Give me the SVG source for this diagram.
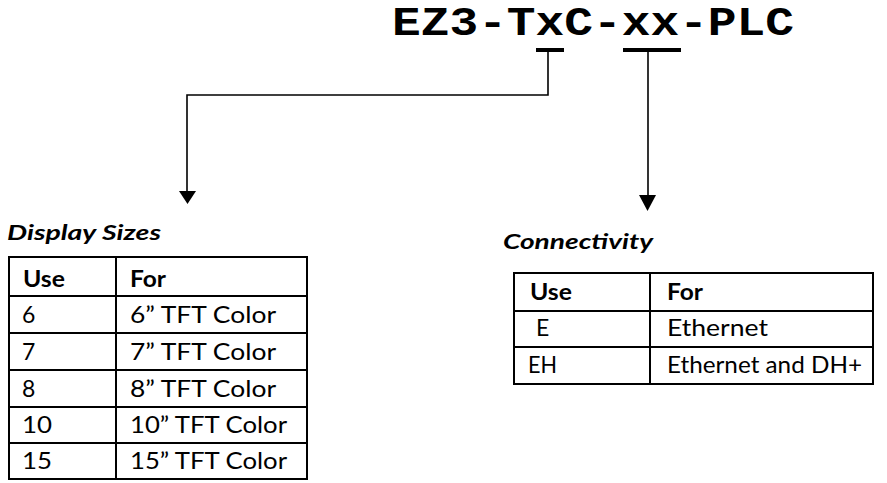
<svg xmlns="http://www.w3.org/2000/svg" width="887" height="483" viewBox="0 0 887 483">
<style>
.title{font-family:"Liberation Mono","DejaVu Sans Mono",monospace;font-weight:bold;font-size:40px;fill:#000}
.lbl{font-family:Lato,"Open Sans",sans-serif;font-weight:bold;font-style:italic;font-size:21px;fill:#000}
.th{font-family:Lato,"Open Sans",sans-serif;font-weight:bold;font-size:23px;fill:#000}
.td{font-family:Lato,"Open Sans",sans-serif;font-size:23px;fill:#000}
.grid{fill:none;stroke:#000;stroke-width:2}
.conn{fill:none;stroke:#000;stroke-width:1.6}
.head{fill:#000}
</style>
<rect width="887" height="483" fill="#fff"/>
<g id="title">
<text class="title" x="392" y="35" textLength="402" lengthAdjust="spacingAndGlyphs">EZ3-TxC-xx-PLC</text>
<rect x="536" y="48" width="28" height="4" fill="#000"/>
<rect x="623" y="48" width="58" height="4" fill="#000"/>
</g>
<g id="connectors">
<polyline class="conn" points="548,52 548,95 187,95 187,193"/>
<polygon class="head" points="179,191 196,191 187.5,204"/>
<line class="conn" x1="648" y1="52" x2="648" y2="197"/>
<polygon class="head" points="639,195 656,195 647.5,211"/>
</g>
<g id="display-sizes">
<text class="lbl" x="7" y="240" textLength="154" lengthAdjust="spacingAndGlyphs">Display Sizes</text>
<rect class="grid" x="9" y="257" width="298" height="222"/>
<line class="grid" x1="116" y1="257" x2="116" y2="479"/>
<line class="grid" x1="9" y1="296" x2="307" y2="296"/>
<line class="grid" x1="9" y1="333" x2="307" y2="333"/>
<line class="grid" x1="9" y1="370" x2="307" y2="370"/>
<line class="grid" x1="9" y1="407" x2="307" y2="407"/>
<line class="grid" x1="9" y1="443" x2="307" y2="443"/>
<text class="th" x="23" y="287" textLength="42" lengthAdjust="spacingAndGlyphs">Use</text>
<text class="th" x="130" y="287" textLength="36" lengthAdjust="spacingAndGlyphs">For</text>
<text class="td" x="22" y="323">6</text>
<text class="td" x="130" y="323" textLength="146" lengthAdjust="spacingAndGlyphs">6” TFT Color</text>
<text class="td" x="22" y="360">7</text>
<text class="td" x="130" y="360" textLength="146" lengthAdjust="spacingAndGlyphs">7” TFT Color</text>
<text class="td" x="22" y="397">8</text>
<text class="td" x="130" y="397" textLength="146" lengthAdjust="spacingAndGlyphs">8” TFT Color</text>
<text class="td" x="22" y="433" textLength="30" lengthAdjust="spacingAndGlyphs">10</text>
<text class="td" x="130" y="433" textLength="157" lengthAdjust="spacingAndGlyphs">10” TFT Color</text>
<text class="td" x="22" y="469" textLength="30" lengthAdjust="spacingAndGlyphs">15</text>
<text class="td" x="130" y="469" textLength="157" lengthAdjust="spacingAndGlyphs">15” TFT Color</text>
</g>
<g id="connectivity">
<text class="lbl" x="503" y="249" textLength="150" lengthAdjust="spacingAndGlyphs">Connectivity</text>
<rect class="grid" x="514" y="273" width="359" height="111"/>
<line class="grid" x1="650" y1="273" x2="650" y2="384"/>
<line class="grid" x1="514" y1="311" x2="873" y2="311"/>
<line class="grid" x1="514" y1="347" x2="873" y2="347"/>
<text class="th" x="530" y="300" textLength="42" lengthAdjust="spacingAndGlyphs">Use</text>
<text class="th" x="667" y="300" textLength="36" lengthAdjust="spacingAndGlyphs">For</text>
<text class="td" x="536" y="336">E</text>
<text class="td" x="667" y="336" textLength="101" lengthAdjust="spacingAndGlyphs">Ethernet</text>
<text class="td" x="528" y="373" textLength="29" lengthAdjust="spacingAndGlyphs">EH</text>
<text class="td" x="667" y="373" textLength="195" lengthAdjust="spacingAndGlyphs">Ethernet and DH+</text>
</g>
</svg>
